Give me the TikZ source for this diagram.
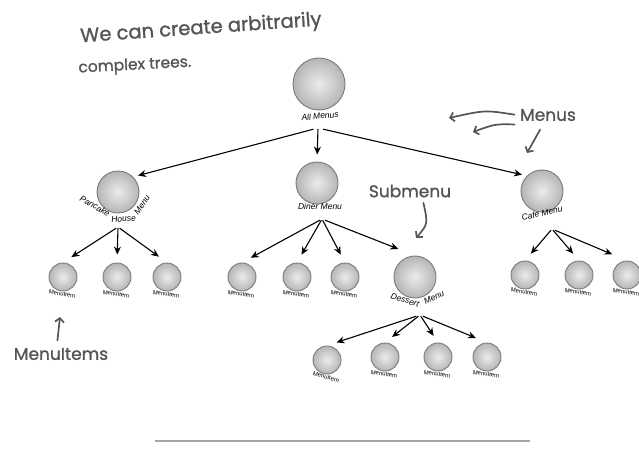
\documentclass[tikz,border=0pt]{standalone}
\usepackage{fontspec}
\setmainfont{Liberation Sans}
\newfontfamily\handfont[FakeBold=1.2]{Poppins}
\usepackage{tikz}
\usetikzlibrary{arrows.meta,positioning,calc}
\definecolor{handInk}{HTML}{555555}
\definecolor{ballRim}{HTML}{7A7A7A}

\begin{document}
\begin{tikzpicture}[x=1pt, y=1pt,
  menu/.style={circle, draw=ballRim, line width=0.9pt, inner color=gray!15,
    outer color=gray!58, minimum size=42pt, inner sep=0pt},
  bigmenu/.style={menu, minimum size=52pt},
  menuitem/.style={menu, minimum size=28pt},
  lbl/.style={inner sep=0.5pt, font=\fontsize{8.5}{9}\selectfont\itshape},
  itemlbl/.style={inner sep=0.5pt, font=\fontsize{6}{6}\selectfont},
  hub/.style={inner sep=0pt, minimum width=14pt, minimum height=2pt},
  tree/.style={line width=1.1pt, -{Stealth[length=8pt, width=7pt]}},
  note/.style={handInk, line width=1.7pt, line cap=round,
    -{Straight Barb[length=4pt, width=9pt]}},
  hand/.style={handInk, font=\handfont\fontsize{17}{19}\selectfont}]
  \useasboundingbox (0,0) rectangle (639,450);

  % the menus
  \node[bigmenu] (all) at (319,366) {};
  \node[menu] (pancake) at (118,258) {};
  \node[menu] (diner) at (317,267) {};
  \node[menu] (cafe) at (542,259) {};
  \node[menu] (dessert) at (415,173) {};

  % their names, bent round the lower side word by word
  \node[lbl, rotate=6] (allLbl) at (320,334) {All Menus};
  \node[lbl, rotate=-30] (pancakeLbl1) at (95,244) {Pancake};
  \node[lbl, rotate=5] (pancakeLbl2) at (123.5,231) {House};
  \node[lbl, rotate=55] (pancakeLbl3) at (142,245) {Menu};
  \node[lbl] (dinerLbl) at (320,244) {Diner Menu};
  \node[lbl, rotate=12] (cafeLbl) at (542,237) {Cafe Menu};
  \node[lbl, rotate=-18] (dessertLbl1) at (405,150) {Dessert};
  \node[lbl, rotate=26] (dessertLbl2) at (434,153) {Menu};

  % the menu items (leaves)
  \foreach \nm/\x/\y/\r in {p1/63/173/-10, p2/117/173/-8, p3/167/173/-8,
      d1/242/173/-8, d2/297/173/-8, d3/345/173/-8,
      c1/525/175/-10, c2/579/175/-8, c3/627/175/-8,
      s1/327/90/-15, s2/385/93/-8, s3/438/93/-8, s4/487/93/-8}{
    \node[menuitem] (\nm) at (\x,\y) {};
    \node[itemlbl, rotate=\r] (\nm Lbl) at ($(\nm)+(-1,-17)$) {MenuItem};
  }

  % where the arrows leave each menu
  \node[hub] (allHub) at (318,322) {};
  \node[hub] (pancakeHub) at (118,223) {};
  \node[hub] (dinerHub) at (322,231) {};
  \node[hub] (cafeHub) at (552,221) {};
  \node[hub] (dessertHub) at (420,135) {};

  \draw[tree, shorten >=5pt] (allHub) -- (pancake.north east);
  \draw[tree, shorten >=7pt] (allHub) -- (diner.north);
  \draw[tree, shorten >=5pt] (allHub) -- (cafe.north west);
  \foreach \kid/\sh in {p1/10, p2/8, p3/10}
    \draw[tree, shorten >=\sh pt] (pancakeHub) -- (\kid.north);
  \foreach \kid/\sh in {d1/10, d2/9, d3/9, dessert/18}
    \draw[tree, shorten >=\sh pt] (dinerHub) -- (\kid.north);
  \foreach \kid/\sh in {c1/9, c2/9, c3/16}
    \draw[tree, shorten >=\sh pt] (cafeHub) -- (\kid.north);
  \foreach \kid/\sh in {s1/10, s2/9, s3/8, s4/12}
    \draw[tree, shorten >=\sh pt] (dessertHub) -- (\kid.north);

  % handwritten notes
  \node[hand, rotate=4, font=\handfont\fontsize{19.5}{21}\selectfont] (title1) at (201,421) {We can create arbitrarily};
  \node[hand, rotate=3, anchor=west, font=\handfont\fontsize{15.5}{17}\selectfont] (title2) at (75,381) {complex trees.};
  \node[hand] (menusT) at (548,335) {Menus};
  \node[hand] (submenuT) at (410,259) {Submenu};
  \node[hand] (itemsT) at (61,96) {MenuItems};

  \coordinate (menusTip1) at (449,332);
  \coordinate (menusTip2) at (473,318);
  \coordinate (menusTip3) at (527,297);
  \coordinate (submenuTip) at (416,212);
  \coordinate (itemsTip) at (60,133);

  \draw[note, shorten <=2pt] (menusT.west) .. controls (485,340) .. (menusTip1);
  \draw[note, shorten <=2pt] (menusT.south west) .. controls (495,326) .. (menusTip2);
  \draw[note, shorten <=6pt] ([xshift=-5pt]menusT.south) -- (menusTip3);
  \draw[note, shorten <=2pt] ([xshift=13pt]submenuT.south) .. controls (428,226) .. (submenuTip);
  \draw[note, shorten <=4pt] ([xshift=-4pt]itemsT.north) -- (itemsTip);

  % rule at the foot
  \draw[gray!70, line width=1.5pt] (155,9) -- (530,9);
\end{tikzpicture}
\end{document}
